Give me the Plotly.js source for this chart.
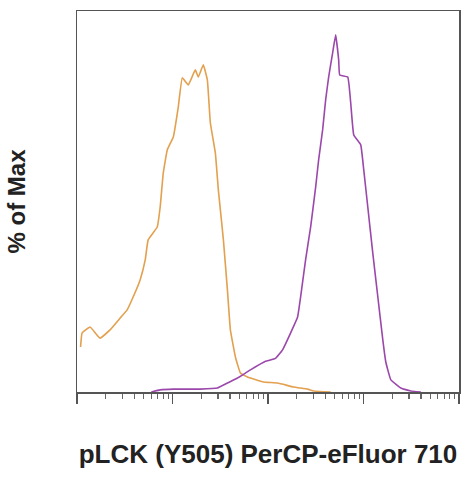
<!DOCTYPE html>
<html>
<head>
<meta charset="utf-8">
<script src="https://cdn.plot.ly/plotly-3.0.1.min.js"></script>
<style>html,body{margin:0;padding:0;background:#fff;}#chart{width:468px;height:480px;}</style>
</head>
<body>
<div id="chart"></div>
<script>
// Isotype / unstained control (orange)
var controlX = [10.9, 11.3, 13.7, 17.4, 22.2, 28.3, 33.5, 38.7, 45.8, 51.8, 55.6, 69.2, 74.3, 80.0, 88.1, 101.9, 114.9, 126.6, 146.3, 173.2, 186.2, 210.2, 231.7, 249.0, 281.1, 302.0, 341.2, 375.8, 403.7, 455.9, 514.5, 609.3, 655, 897, 1259, 1853, 2601, 3006, 4529];
var controlY = [12.6, 16.5, 18.2, 15.1, 17.4, 20.7, 23.0, 26.6, 31.4, 37.0, 42.6, 46.2, 51.8, 61.3, 67.8, 71.4, 79.8, 88.0, 86.0, 90.2, 88.2, 91.6, 87.4, 75.4, 66.9, 56.6, 42.6, 28.6, 17.4, 9.8, 5.3, 4.2, 3.9, 2.8, 2.5, 1.4, 0.8, 0.3, 0];
// pLCK (Y505) stained (purple)
var stainedX = [60, 74.3, 101.9, 195.4, 295.1, 375.8, 478.6, 655, 942, 1199, 1420, 1722, 2041, 2194, 2475, 2794, 3155, 3390, 3733, 4015, 4316, 4753, 5113, 5495, 5635, 6837, 7345, 7906, 9355, 10060, 11090, 12510, 14130, 15930, 17130, 19330, 24610, 31320, 39860];
var stainedY = [0, 0.6, 0.8, 0.8, 1.1, 2.5, 3.9, 6.2, 8.6, 9.4, 11.8, 16.5, 21.0, 26.6, 37.0, 46.2, 57.4, 65.0, 73.4, 81.8, 88.2, 95.0, 100, 93.0, 88.8, 88.2, 81.0, 72.0, 69.2, 62.2, 51.8, 38.9, 26.6, 14.6, 8.4, 3.4, 1.1, 0.3, 0];

var majorTicks = [10, 100, 1000, 10000, 100000];
var minorTicks = [];
[10, 100, 1000, 10000].forEach(function (d) {
  for (var k = 2; k <= 9; k++) minorTicks.push(d * k);
});
var xTitle = 'pLCK (Y505) PerCP-eFluor 710';
var yTitle = '% of Max';

var traces = [
  {x: controlX, y: controlY, type: 'scatter', mode: 'lines', line: {color: '#E3A04E', width: 1.6, shape: 'spline', smoothing: 0.3}, hoverinfo: 'skip'},
  {x: stainedX, y: stainedY, type: 'scatter', mode: 'lines', line: {color: '#9B47AB', width: 1.6, shape: 'spline', smoothing: 0.3}, hoverinfo: 'skip'}
];

var layout = {
  width: 468, height: 480,
  margin: {l: 77, r: 9, t: 11, b: 88},
  paper_bgcolor: '#fff', plot_bgcolor: '#fff',
  showlegend: false,
  font: {family: 'Liberation Sans, Arial, sans-serif', color: '#222'},
  xaxis: {
    type: 'log', range: [1, 5],
    showline: true, mirror: true, linecolor: '#555', linewidth: 1.5,
    showgrid: false, zeroline: false,
    ticks: 'outside', tickmode: 'array', tickvals: majorTicks, ticklen: 10, tickwidth: 1.2, tickcolor: '#555',
    showticklabels: false,
    minor: {tickmode: 'array', tickvals: minorTicks, ticks: 'outside', ticklen: 5, tickwidth: 1.2, tickcolor: '#666', showgrid: false},
    title: {text: xTitle, font: {size: 26, weight: 'bold', color: '#222'}, standoff: 42}
  },
  yaxis: {
    range: [0, 106.7],
    showline: true, mirror: true, linecolor: '#555', linewidth: 1.5,
    showgrid: false, zeroline: false,
    ticks: '', showticklabels: false,
    title: {text: yTitle, font: {size: 24, weight: 'bold', color: '#222'}, standoff: 43}
  }
};

Plotly.newPlot('chart', traces, layout, {staticPlot: true, displayModeBar: false});
</script>
</body>
</html>
